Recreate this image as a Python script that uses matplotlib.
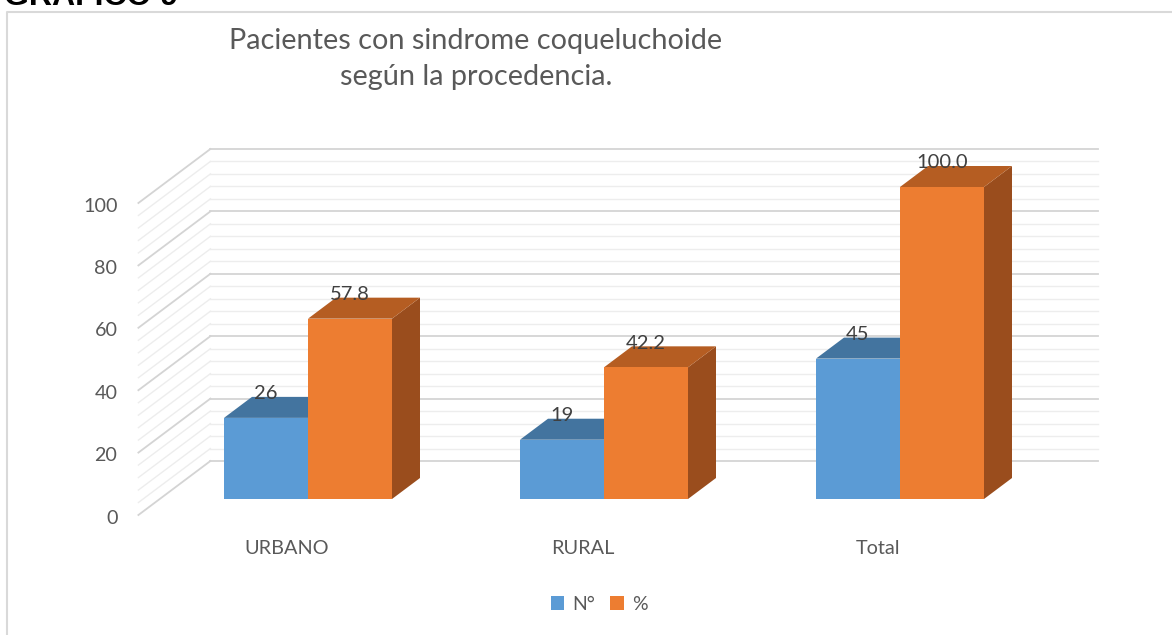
import numpy as np
import matplotlib
matplotlib.use('Agg')
import matplotlib.pyplot as plt
from matplotlib.patches import Rectangle, Polygon, Patch
from matplotlib.lines import Line2D

plt.rcParams['font.family'] = ['Lato', 'DejaVu Sans']

# datos
categorias = ['URBANO', 'RURAL', 'Total']
n_pacientes = [26, 19, 45]
porcentaje = [57.8, 42.2, 100.0]
etiquetas_n = ['26', '19', '45']
etiquetas_pct = ['57.8', '42.2', '100.0']
series = ['N°', '%']
ticks_y = [0, 20, 40, 60, 80, 100]

titulo = 'Pacientes con sindrome coqueluchoide\nsegún la procedencia.'

# colores tipo Excel (frente, tapa, lado)
col_azul = ('#5b9bd5', '#43749f', '#3a6894')
col_naranja = ('#ed7d31', '#b55d22', '#9a4d1d')
col_texto = '#595959'

W, H = 1172, 635
fig = plt.figure(figsize=(W / 100, H / 100), dpi=100)

# escala: pixeles por categoria y por unidad de valor
X0, CAT = 308, 296.0
Y0, VAL = 499, 3.12
ax = fig.add_axes([0, 0, 1, 1])
ax.set_xlim(-X0 / CAT, (W - X0) / CAT)
ax.set_ylim(-(H - Y0) / VAL, Y0 / VAL)
ax.axis('off')

def px(dx, dy):
    # desplazamiento en pixeles -> unidades de datos
    return dx / CAT, -dy / VAL

bw = 84 / CAT
ddx, ddy = px(28, -21)        # profundidad de las barras
fx, fy = px(-21.6, 16)        # borde frontal del piso
bx, by = px(50.4, -38)        # pared del fondo

# cuadricula (pared lateral y de fondo)
for v in range(0, 101, 4):
    c = '#d4d4d4' if v % 20 == 0 else '#ededed'
    lw = 1.3 if v % 20 == 0 else 1.0
    ax.plot([-0.5 + fx, -0.5 + bx], [v + fy, v + by], color=c, lw=lw, zorder=1)
    ax.plot([-0.5 + bx, 2.5 + bx], [v + by, v + by], color=c, lw=lw, zorder=1)

# eje y
tx, ty = px(-21, 3)
for t in ticks_y:
    ax.text(-0.5 + fx + tx, t + fy + ty, str(t), ha='right', va='center',
            fontsize=14.2, color=col_texto)

# categorias
_, cy = px(0, 33)
for i, c in enumerate(categorias):
    ax.text(i + fx, fy + cy, c, ha='center', va='center', fontsize=14.3, color=col_texto)

def barra3d(x0, v, cols, z):
    front, top, side = cols
    ax.add_patch(Polygon([(x0 + bw, 0), (x0 + bw + ddx, ddy), (x0 + bw + ddx, v + ddy), (x0 + bw, v)],
                         closed=True, fc=side, ec='none', zorder=z))
    ax.add_patch(Polygon([(x0, v), (x0 + ddx, v + ddy), (x0 + bw + ddx, v + ddy), (x0 + bw, v)],
                         closed=True, fc=top, ec='none', zorder=z))
    ax.add_patch(Rectangle((x0, 0), bw, v, fc=front, ec='none', zorder=z))

_, ly = px(0, -3)
z = 2
for i in range(len(categorias)):
    for j, (vals, labs, cols) in enumerate([(n_pacientes, etiquetas_n, col_azul),
                                            (porcentaje, etiquetas_pct, col_naranja)]):
        x0 = i - bw + j * bw
        barra3d(x0, vals[i], cols, z)
        ax.text(x0 + bw / 2, vals[i] + ddy + ly, labs[i], ha='center', va='center',
                fontsize=14.5, color='#404040', zorder=10)
        z += 1

# titulo
fig.text(476 / W, 1 - 59 / H, titulo, ha='center', va='center', fontsize=20.8,
         color=col_texto, linespacing=1.45, multialignment='center')

# encabezado cortado por el borde superior
fig.text(4 / W, 1 - 5 / H, 'GRAFICO 9', ha='left', va='baseline', fontsize=23,
         fontweight='bold', color='black', family=['Liberation Sans', 'DejaVu Sans'])

# marco
fig.add_artist(Line2D([7 / W, 7 / W, 1], [0, 1 - 12 / H, 1 - 12 / H],
                      transform=fig.transFigure, color='#d9d9d9', lw=1.5))

# leyenda
handles = [Patch(fc=col_azul[0], ec='none'), Patch(fc=col_naranja[0], ec='none')]
fig.legend(handles, series, loc='center', bbox_to_anchor=(599 / W, 1 - 604 / H), ncol=2,
           frameon=False, fontsize=14, handlelength=0.7, handleheight=0.7,
           columnspacing=0.8, handletextpad=0.4, labelcolor=col_texto)

fig.savefig('out.png', dpi=100)
